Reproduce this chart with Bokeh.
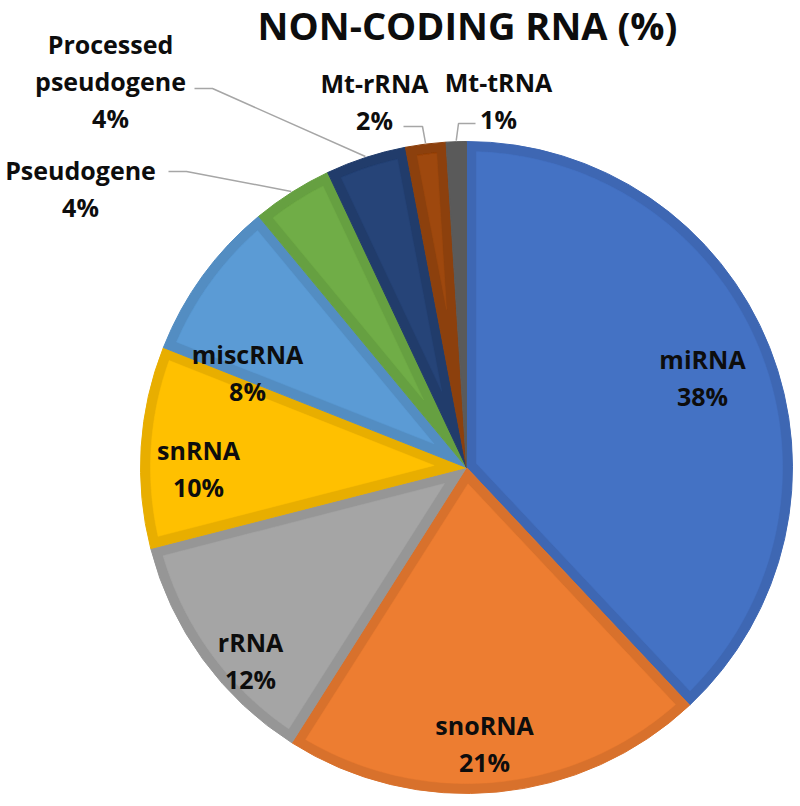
import math
from bokeh.plotting import figure
from bokeh.models import Range1d
from bokeh.core.properties import value
from bokeh.embed import file_html
from bokeh.resources import INLINE

# ---------------- data ----------------
categories = ["miRNA", "snoRNA", "rRNA", "snRNA", "miscRNA", "Pseudogene",
              "Processed pseudogene", "Mt-rRNA", "Mt-tRNA"]
percents = [38, 21, 12, 10, 8, 4, 4, 2, 1]
label_names = [["miRNA"], ["snoRNA"], ["rRNA"], ["snRNA"], ["miscRNA"], ["Pseudogene"],
               ["Processed", "pseudogene"], ["Mt-rRNA"], ["Mt-tRNA"]]
title_text = "NON-CODING RNA (%)"

# ---------------- styles / layout ----------------
fill_colors = ["#4472C4", "#ED7D31", "#A5A5A5", "#FFC000", "#5B9BD5", "#70AD47",
               "#264478", "#9E480E", "#636363"]
edge_colors = ["#3E67B3", "#D8712C", "#969696", "#E8AE00", "#538DC2", "#66A041",
               "#213C6B", "#8C400D", "#5A5A5A"]
W, H = 800, 806
CX, CY = 466, 467       # pie centre (picture pixels)
R = 326                 # pie radius (pixels)
INSET = 10              # darker rim thickness
LINE_GAP = 37
FONT = "Open Sans"
TEXT_COLOR = "#0D0D0D"
label_center = {
    "miRNA": (702, 377),
    "snoRNA": (484, 743),
    "rRNA": (250, 660),
    "snRNA": (198, 468),
    "miscRNA": (247, 372),
    "Pseudogene": (80, 188),
    "Processed pseudogene": (110, 80),
    "Mt-rRNA": (374, 101),
    "Mt-tRNA": (498, 100),
}
leader_anchor = {
    "Pseudogene": ((168, 171), (186, 171)),
    "Processed pseudogene": ((194, 88), (212, 88)),
    "Mt-rRNA": ((403, 126), (422, 126)),
    "Mt-tRNA": ((475, 123), (458, 123)),
}

p = figure(width=W, height=H, output_backend="svg", toolbar_location=None,
           x_range=Range1d(0, W), y_range=Range1d(-H, 0),
           x_axis_type=None, y_axis_type=None, min_border=0, tools="")
p.grid.visible = False
p.outline_line_color = None
p.background_fill_color = "white"
p.border_fill_color = "white"

def dy(sy):
    return -sy

total = float(sum(percents))
cum = 0.0
for i, (cat, v) in enumerate(zip(categories, percents)):
    t1 = cum / total * 360.0
    t2 = (cum + v) / total * 360.0
    cum += v
    a_start = math.radians(90 - t2)
    a_end = math.radians(90 - t1)
    # outer (darker rim) wedge
    p.wedge(x=CX, y=dy(CY), radius=R, start_angle=a_start, end_angle=a_end,
            direction="anticlock", fill_color=edge_colors[i],
            line_color=edge_colors[i], line_width=1)
    # inner lighter inset
    h = (a_end - a_start) / 2.0
    rr = R - INSET
    delta = math.asin(INSET / rr)
    if h > delta + 1e-6:
        m = (a_start + a_end) / 2.0
        apex = INSET / math.sin(h) if h < math.pi / 2 else INSET
        xs = [CX + apex * math.cos(m)]
        ys = [dy(CY) + apex * math.sin(m)]
        n = 120
        for k in range(n + 1):
            a = a_start + delta + (a_end - a_start - 2 * delta) * k / n
            xs.append(CX + rr * math.cos(a))
            ys.append(dy(CY) + rr * math.sin(a))
        p.patch(xs, ys, fill_color=fill_colors[i], line_color=fill_colors[i], line_width=0.5)

    # leader lines
    if cat in leader_anchor:
        mid = math.radians(90 - (t1 + t2) / 2.0)
        ex = CX + (R + 1) * math.cos(mid)
        ey = dy(CY) + (R + 1) * math.sin(mid)
        (sx0, sy0), (sx1, sy1) = leader_anchor[cat]
        p.line([sx0, sx1, ex], [dy(sy0), dy(sy1), ey], line_color="#A6A6A6", line_width=1.5)

    # labels
    lines = label_names[i] + [f"{v}%"]
    lx, ly = label_center[cat]
    n_l = len(lines)
    for j, t in enumerate(lines):
        yy = ly + (j - (n_l - 1) / 2.0) * LINE_GAP
        p.text(x=[lx], y=[dy(yy)], text=[t], text_font=value(FONT), text_font_style="bold",
               text_font_size="25px", text_align="center", text_baseline="middle",
               text_color=TEXT_COLOR)

p.text(x=[467], y=[dy(24)], text=[title_text], text_font=value(FONT), text_font_style="bold",
       text_font_size="38px", text_align="center", text_baseline="middle", text_color=TEXT_COLOR)

open("out.html", "w").write(file_html(p, INLINE))
